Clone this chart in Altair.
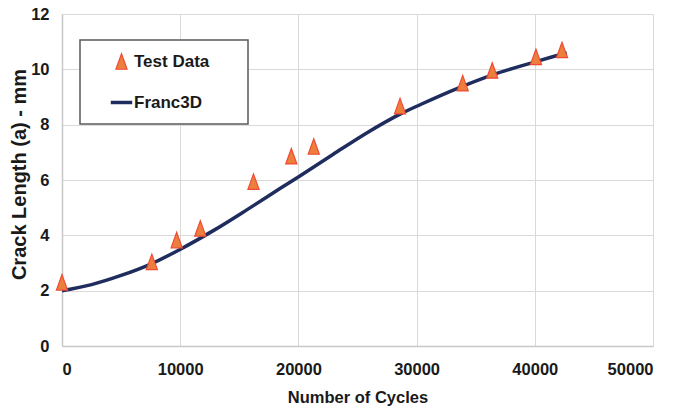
import altair as alt
import pandas as pd

# Test data (triangles)
test_cycles = [0, 7600, 9700, 11700, 16200, 19400, 21300, 28600, 33900, 36400, 40100, 42300]
test_a = [2.3, 3.04, 3.83, 4.25, 5.94, 6.86, 7.21, 8.67, 9.5, 9.96, 10.45, 10.7]

# Franc3D prediction (line)
model_cycles = [0, 2500, 5000, 7600, 9980, 12800, 15630, 18440, 20060, 22950,
                25780, 28600, 30290, 33670, 36490, 40020, 42130, 42700]
model_a = [2.0, 2.22, 2.55, 2.98, 3.49, 4.17, 4.92, 5.69, 6.13, 6.93,
           7.7, 8.38, 8.72, 9.35, 9.81, 10.27, 10.53, 10.6]

series_names = ["Test Data", "Franc3D"]
x_ticks = [0, 10000, 20000, 30000, 40000, 50000]
y_ticks = [0, 2, 4, 6, 8, 10, 12]

test_df = pd.DataFrame({"cycles": test_cycles, "a": test_a, "series": "Test Data"})
model_df = pd.DataFrame({"cycles": model_cycles, "a": model_a, "series": "Franc3D"})

FONT = "Liberation Sans, Arial, sans-serif"
ORANGE = "#EB7F3B"
RED = "#F04A35"
NAVY = "#1F2D5E"
TRI = "M0,-1L0.72,1L-0.72,1Z"

leg = alt.Legend(
    orient="none", legendX=18, legendY=26, title="\u00a0",
    titleOrient="right", titlePadding=26, titleFontSize=10,
    padding=13, symbolOffset=16, rowPadding=18, labelOffset=0,
    labelFont=FONT, labelFontSize=17, labelFontWeight="bold", labelColor="#1a1a1a",
    strokeColor="#595959", fillColor="white",
)

x_enc = alt.X("cycles:Q", scale=alt.Scale(domain=[0, 50000], nice=False),
              axis=alt.Axis(values=x_ticks, format="d", title="Number of Cycles"))
y_enc = alt.Y("a:Q", scale=alt.Scale(domain=[0, 12], nice=False),
              axis=alt.Axis(values=y_ticks, title="Crack Length (a) - mm",
                            titleFontSize=20, titleY=160))

stroke_scale = alt.Scale(domain=series_names, range=[RED, NAVY])
sw_scale = alt.Scale(domain=series_names, range=[1.2, 3.5])

line = alt.Chart(model_df).mark_line(interpolate="monotone").encode(
    x=x_enc, y=y_enc,
    stroke=alt.Stroke("series:N", scale=stroke_scale, legend=leg, sort=series_names),
    strokeWidth=alt.StrokeWidth("series:N", scale=sw_scale, legend=leg, sort=series_names),
)

points = alt.Chart(test_df).mark_point(filled=True, opacity=1).encode(
    x=x_enc, y=y_enc,
    fill=alt.Fill("series:N", scale=alt.Scale(domain=series_names, range=[ORANGE, NAVY]),
                  legend=leg, sort=series_names),
    stroke=alt.Stroke("series:N", scale=stroke_scale, legend=leg, sort=series_names),
    strokeWidth=alt.StrokeWidth("series:N", scale=sw_scale, legend=leg, sort=series_names),
    shape=alt.Shape("series:N", scale=alt.Scale(domain=series_names, range=[TRI, "stroke"]),
                    legend=leg, sort=series_names),
    size=alt.Size("series:N", scale=alt.Scale(domain=series_names, range=[240, 460]),
                  legend=leg, sort=series_names),
)

chart = alt.layer(line, points).properties(
    width=591, height=332,
    autosize=alt.AutoSizeParams(type="none"),
    padding={"left": 54, "top": 6, "right": 14, "bottom": 63},
    background="white",
).configure_view(
    stroke=None
).configure_axis(
    labelFont=FONT, labelFontSize=16.5, labelFontWeight="bold", labelColor="#1a1a1a",
    titleFont=FONT, titleFontSize=16.5, titleFontWeight="bold", titleColor="#1a1a1a",
    ticks=False, grid=True, gridColor="#d9d9d9", gridWidth=1,
    domainColor="#c8c8c8", domainWidth=1.5,
).configure_axisX(
    labelPadding=15, titlePadding=12,
).configure_axisY(
    labelPadding=13, titlePadding=1,
).configure_legend(
    strokeWidth=1.5,
)

chart.save("out.html", embed_options={"renderer": "svg", "actions": False})
